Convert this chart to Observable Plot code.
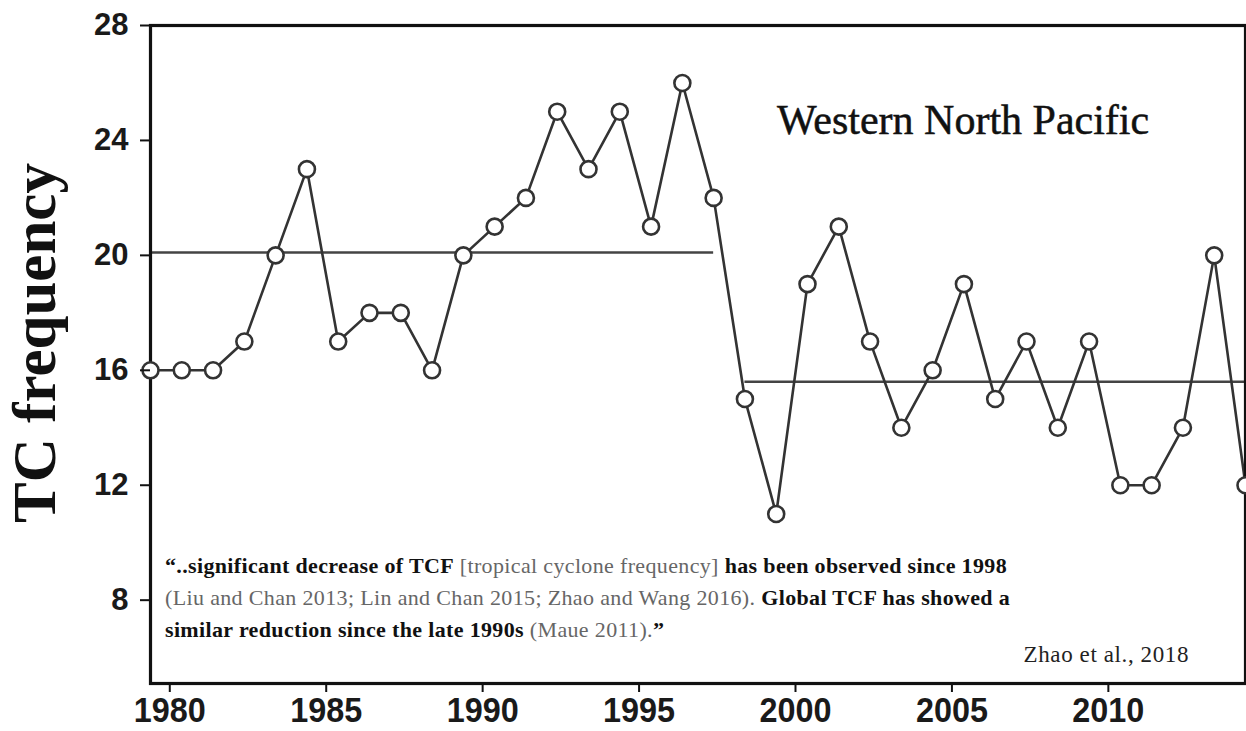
<!DOCTYPE html>
<html>
<head>
<meta charset="utf-8">
<script src="https://cdn.jsdelivr.net/npm/d3@7"></script>
<script src="https://cdn.jsdelivr.net/npm/@observablehq/plot@0.6"></script>
<style>
  html, body { margin: 0; padding: 0; background: #fff; }
  #chart { width: 1246px; height: 731px; overflow: hidden; }
  svg { display: block; overflow: hidden; }
</style>
</head>
<body>
<div id="chart"></div>
<script>
// ---- data ----
const years = [1979, 1980, 1981, 1982, 1983, 1984, 1985, 1986, 1987, 1988,
               1989, 1990, 1991, 1992, 1993, 1994, 1995, 1996, 1997, 1998,
               1999, 2000, 2001, 2002, 2003, 2004, 2005, 2006, 2007, 2008,
               2009, 2010, 2011, 2012, 2013, 2014];
const tcFrequency = [16, 16, 16, 17, 20, 23, 17, 18, 18, 16,
                     20, 21, 22, 25, 23, 25, 21, 26, 22, 15,
                     11, 19, 21, 17, 14, 16, 19, 15, 17, 14,
                     17, 12, 12, 14, 20, 12];
const periodStart = [1979, 1998];
const periodEnd = [1997, 2014];
const periodMean = [20.1, 15.6];
const xTicks = [1980, 1985, 1990, 1995, 2000, 2005, 2010];
const yTicks = [8, 12, 16, 20, 24, 28];

const yAxisLabel = "TC frequency";
const regionLabel = "Western North Pacific";
const citation = "Zhao et al., 2018";
const quoteLines = [
  [["\u201C..significant decrease of TCF", "b"], [" [tropical cyclone frequency] ", "r"], ["has been observed since 1998", "b"]],
  [["(Liu and Chan 2013; Lin and Chan 2015; Zhao and Wang 2016).", "r"], [" Global TCF has showed a", "b"]],
  [["similar reduction since the late 1990s", "b"], [" (Maue 2011).", "r"], ["\u201D", "b"]]
];

// ---- tables built from the arrays ----
const series = years.map((y, i) => ({year: y, tc: tcFrequency[i]}));
const periods = periodMean.map((m, i) => ({start: periodStart[i], end: periodEnd[i], mean: m}));

const W = 1246, H = 731;
const plot = Plot.plot({
  width: W,
  height: H,
  marginLeft: 150,
  marginRight: 1,
  marginTop: 25,
  marginBottom: 48,
  style: {background: "#fff", overflow: "hidden"},
  x: {domain: [1979, 2014], axis: null},
  y: {domain: [5.1, 28], axis: null},
  marks: [
    Plot.ruleY(periods, {y: "mean", x1: "start", x2: "end", stroke: "#444", strokeWidth: 2.6}),
    Plot.line(series, {x: "year", y: "tc", stroke: "#333", strokeWidth: 2.6}),
    Plot.frame({stroke: "#111", strokeWidth: 3.2}),
    Plot.dot(series, {x: "year", y: "tc", r: 8, fill: "#fff", stroke: "#333", strokeWidth: 2.6}),
    Plot.axisY(yTicks, {
      tickSize: 10, tickPadding: 12, fontSize: 31, stroke: "#111", strokeWidth: 2,
      fontFamily: "Liberation Sans, Arial, sans-serif", fontWeight: "bold", label: null, fill: "#1a1a1a"
    }),
    Plot.axisX(xTicks, {
      tickSize: 9, tickPadding: 5, dx: -12, fontSize: 35, stroke: "#111", strokeWidth: 2,
      fontFamily: "Liberation Sans Narrow, Arial Narrow, Liberation Sans, sans-serif",
      fontWeight: "bold", tickFormat: d => String(d), label: null, fill: "#1a1a1a"
    })
  ]
});

document.getElementById("chart").appendChild(plot);

const svg = d3.select(plot);

// condense the x tick labels like the reference's narrow face
svg.selectAll('g[aria-label="x-axis tick label"] text')
  .attr("textLength", 72)
  .attr("lengthAdjust", "spacingAndGlyphs");

// ---- text annotations ----
svg.append("text")
  .attr("transform", "translate(55,343) rotate(-90)")
  .attr("text-anchor", "middle")
  .attr("font-family", "Liberation Serif, Times New Roman, serif")
  .attr("font-weight", "bold")
  .attr("font-size", 61)
  .attr("fill", "#111")
  .text(yAxisLabel);

svg.append("text")
  .attr("x", 777).attr("y", 134)
  .attr("text-anchor", "start")
  .attr("font-family", "Liberation Serif, Times New Roman, serif")
  .attr("font-size", 42)
  .attr("fill", "#111")
  .attr("stroke", "#111").attr("stroke-width", 0.5)
  .text(regionLabel);

svg.append("text")
  .attr("x", 1189).attr("y", 662)
  .attr("text-anchor", "end")
  .attr("font-family", "Liberation Serif, Times New Roman, serif")
  .attr("font-size", 23)
  .attr("letter-spacing", 0.6)
  .attr("fill", "#222")
  .text(citation);

const qBase = [573, 605, 637];
quoteLines.forEach((segs, li) => {
  const t = svg.append("text")
    .attr("x", 165).attr("y", qBase[li])
    .attr("text-anchor", "start")
    .attr("font-family", "Liberation Serif, Times New Roman, serif")
    .attr("font-size", 22)
    .attr("letter-spacing", 0.35)
    .style("white-space", "pre");
  segs.forEach(([s, k]) => {
    t.append("tspan")
      .attr("font-weight", k === "b" ? "bold" : "normal")
      .attr("fill", k === "b" ? "#111" : "#666")
      .text(s);
  });
});
</script>
</body>
</html>
